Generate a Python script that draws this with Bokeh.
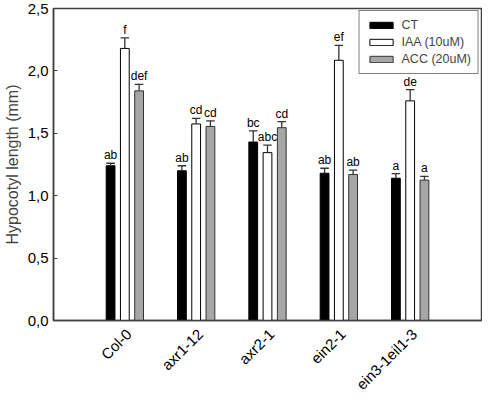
import math
from bokeh.plotting import figure
from bokeh.models import (ColumnDataSource, FactorRange, Legend, LegendItem,
                          CustomJSTickFormatter, FixedTicker)
from bokeh.transform import dodge
from bokeh.core.properties import value
from bokeh.embed import file_html
from bokeh.resources import INLINE

lines = ["Col-0", "axr1-12", "axr2-1", "ein2-1", "ein3-1eil1-3"]
series = ["CT", "IAA (10uM)", "ACC (20uM)"]
ct = [1.24, 1.20, 1.43, 1.18, 1.14]
ct_err = [0.02, 0.04, 0.09, 0.04, 0.037]
iaa = [2.18, 1.575, 1.345, 2.085, 1.76]
iaa_err = [0.085, 0.045, 0.06, 0.12, 0.09]
acc = [1.84, 1.555, 1.545, 1.17, 1.125]
acc_err = [0.052, 0.045, 0.048, 0.035, 0.03]
ct_letters = ["ab", "ab", "bc", "ab", "a"]
iaa_letters = ["f", "cd", "abc", "ef", "de"]
acc_letters = ["def", "cd", "cd", "ab", "a"]
y_ticks = [0.0, 0.5, 1.0, 1.5, 2.0, 2.5]

FONT = "Liberation Sans"
AX = "#404040"

p = figure(x_range=FactorRange(*lines, range_padding=0.2), y_range=(0, 2.5),
           width=482, height=392, output_backend="svg", toolbar_location=None,
           min_border_left=49, min_border_right=1, min_border_top=8,
           min_border_bottom=72)
p.xgrid.grid_line_color = None
p.ygrid.grid_line_color = None
p.outline_line_color = AX
p.outline_line_width = 1.5

specs = [
    (ct, ct_err, ct_letters, -0.2, "black", "black"),
    (iaa, iaa_err, iaa_letters, 0.0, "white", "black"),
    (acc, acc_err, acc_letters, 0.2, "#a6a6a6", "#333333"),
]
bw = 0.123
cap = 0.06
items = []
for (vals, errs, lets, off, fill, line), name in zip(specs, series):
    src = ColumnDataSource(dict(line=lines, top=vals,
                                upper=[v + e for v, e in zip(vals, errs)],
                                letter=lets))
    r = p.vbar(x=dodge("line", off, range=p.x_range), top="top", width=bw,
               bottom=0, source=src, fill_color=fill, line_color=line,
               line_width=1)
    p.segment(x0=dodge("line", off, range=p.x_range), y0="top",
              x1=dodge("line", off, range=p.x_range), y1="upper",
              source=src, line_color="#333333", line_width=1.3)
    p.segment(x0=dodge("line", off - cap, range=p.x_range), y0="upper",
              x1=dodge("line", off + cap, range=p.x_range), y1="upper",
              source=src, line_color="#333333", line_width=1.3)
    p.text(x=dodge("line", off, range=p.x_range), y="upper", text="letter",
           source=src, text_align="center", text_baseline="bottom",
           y_offset=-1, text_font=value(FONT), text_font_size="12px",
           text_color="black")
    items.append(LegendItem(label=name, renderers=[r]))

legend = Legend(items=items, location="top_right", glyph_width=29,
                glyph_height=8, label_height=13, spacing=3, padding=7,
                margin=2, label_text_font=FONT, label_text_font_size="12.5px",
                border_line_color="black", border_line_width=1,
                label_standoff=6)
p.add_layout(legend)

p.yaxis.ticker = FixedTicker(ticks=y_ticks)
p.yaxis.formatter = CustomJSTickFormatter(
    code="return tick.toFixed(1).replace('.', ',');")
p.yaxis.axis_label = "Hypocotyl length (mm)"
p.yaxis.axis_label_text_font = FONT
p.yaxis.axis_label_text_font_size = "16px"
p.yaxis.axis_label_text_font_style = "normal"
p.yaxis.axis_label_standoff = 4
p.yaxis.major_tick_in = 4
p.yaxis.major_tick_out = 0
p.yaxis.minor_tick_line_color = None

for ax in (p.xaxis, p.yaxis):
    ax.axis_line_color = AX
    ax.axis_line_width = 1.5
    ax.major_tick_line_color = AX
    ax.major_label_text_font = FONT
    ax.major_label_text_font_size = "15px"
    ax.major_label_text_color = "black"

# x category labels drawn as rotated text below the axis
p.xaxis.major_tick_line_color = None
p.xaxis.major_label_standoff = 0
p.xaxis.major_label_text_font_size = "1px"
p.xaxis.major_label_text_color = None
p.xaxis.major_label_text_alpha = 0
xlab_src = ColumnDataSource(dict(line=lines, y=[0] * len(lines)))
p.text(x="line", y="y", text="line", source=xlab_src, angle=math.pi / 4,
       text_align="right", text_baseline="middle", x_offset=4, y_offset=11,
       text_font=value(FONT), text_font_size="15px", text_color="black",
       level="overlay")

open("out.html", "w").write(file_html(p, INLINE))
